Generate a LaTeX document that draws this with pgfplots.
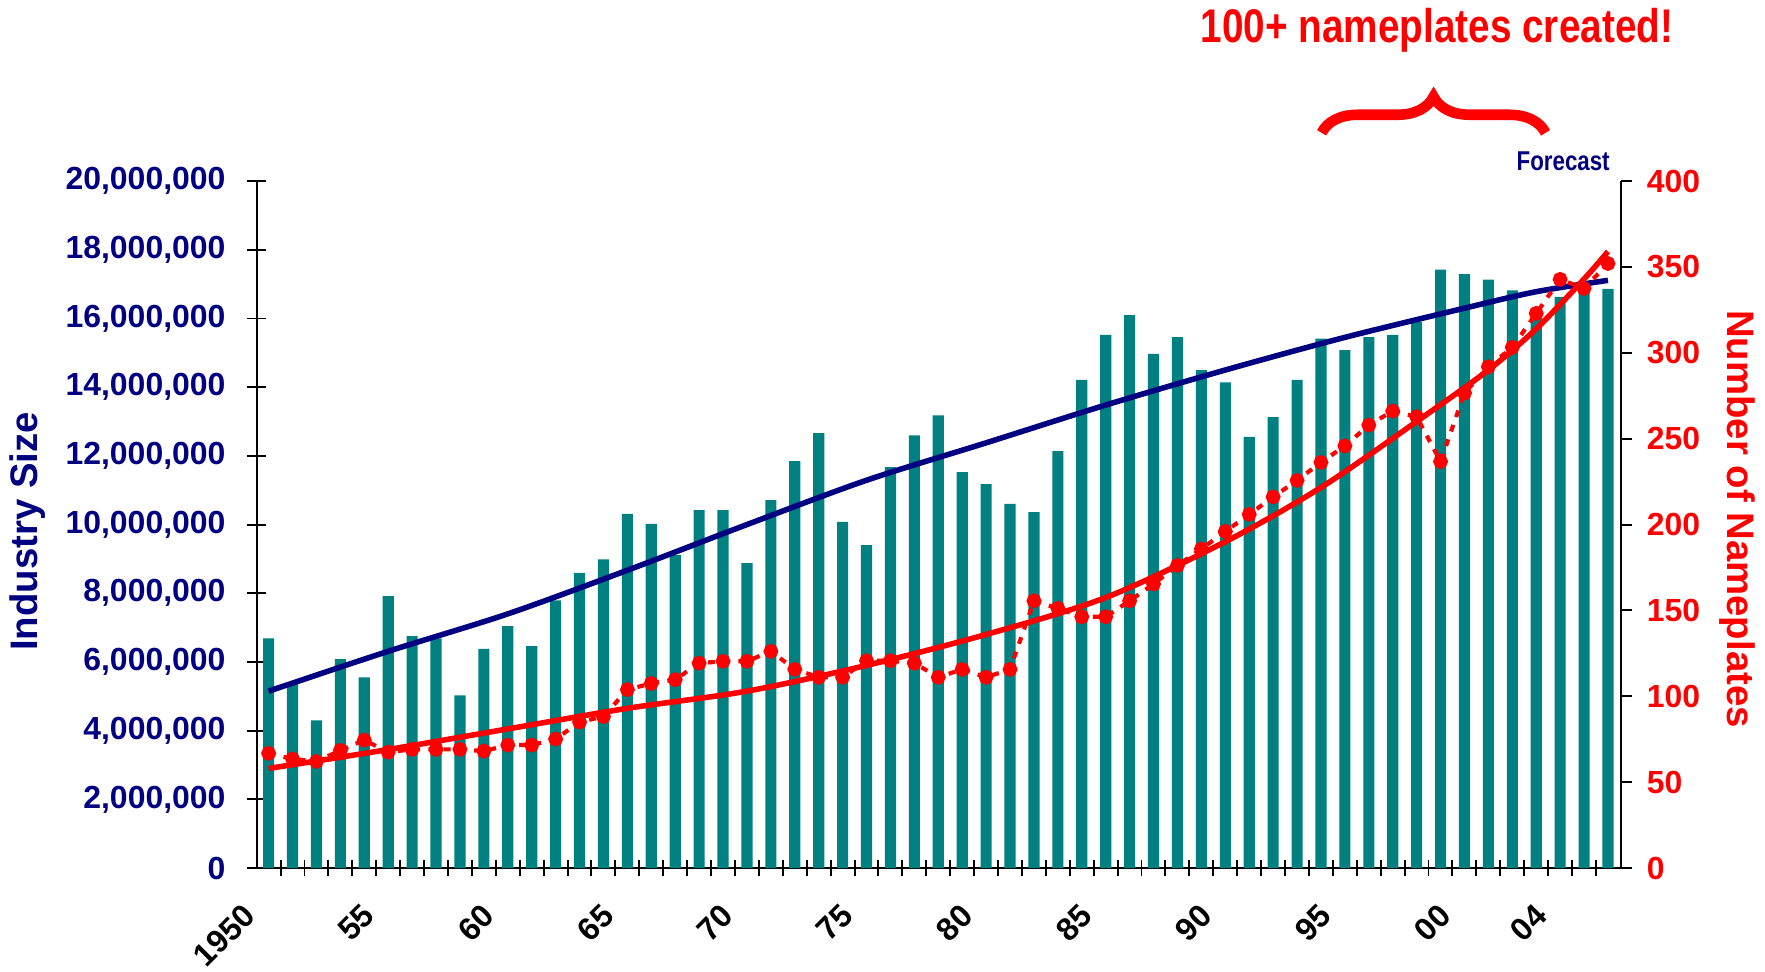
\documentclass[border=0pt]{standalone}
\usepackage{pgfplots}
\usepackage{pgfplotstable}
\pgfplotsset{compat=1.18}
\usepackage{fontspec}
\setmainfont{Liberation Sans}
\newfontfamily\narrowfont[FakeStretch=0.82]{Liberation Sans}
\usetikzlibrary{decorations.pathreplacing}
\definecolor{navy}{RGB}{0,0,128}
\definecolor{myteal}{RGB}{0,128,128}
\definecolor{myred}{RGB}{255,0,0}

\pgfplotstableread{
year sales
1950 6.69
1951 5.37
1952 4.30
1953 6.08
1954 5.55
1955 7.92
1956 6.75
1957 6.69
1958 5.03
1959 6.38
1960 7.04
1961 6.46
1962 7.79
1963 8.59
1964 8.99
1965 10.31
1966 10.02
1967 9.11
1968 10.42
1969 10.42
1970 8.88
1971 10.71
1972 11.85
1973 12.66
1974 10.08
1975 9.40
1976 11.67
1977 12.60
1978 13.18
1979 11.53
1980 11.18
1981 10.60
1982 10.36
1983 12.14
1984 14.21
1985 15.52
1986 16.10
1987 14.97
1988 15.46
1989 14.50
1990 14.14
1991 12.55
1992 13.13
1993 14.21
1994 15.41
1995 15.08
1996 15.46
1997 15.52
1998 15.90
1999 17.42
2000 17.29
2001 17.13
2002 16.82
2003 16.26
2004 16.63
2005 16.95
2006 16.86
}\salestable

\pgfplotstableread{
year plates
1950 66.8
1951 63.5
1952 62.1
1953 68.5
1954 74.5
1955 67.5
1956 69.1
1957 69.1
1958 69.1
1959 68.1
1960 71.6
1961 71.6
1962 75.1
1963 85.0
1964 88.2
1965 103.9
1966 107.5
1967 109.7
1968 119.3
1969 120.4
1970 120.4
1971 126.2
1972 115.7
1973 111.1
1974 111.1
1975 120.7
1976 120.7
1977 119.3
1978 111.1
1979 115.7
1980 111.1
1981 115.7
1982 155.6
1983 151.2
1984 146.3
1985 146.3
1986 155.6
1987 165.4
1988 176.2
1989 185.8
1990 196.0
1991 205.9
1992 216.1
1993 225.7
1994 236.2
1995 245.8
1996 257.9
1997 266.1
1998 262.8
1999 236.7
2000 276.6
2001 291.9
2002 303.2
2003 323.0
2004 342.8
2005 337.5
2006 352.0
}\platestable

\begin{document}
\begin{tikzpicture}
\path[use as bounding box] (-92.4pt,-37.1pt) rectangle (543pt,312.5pt);
\begin{axis}[
  at={(0pt,0pt)}, anchor=south west,
  scale only axis, width=491.2pt, height=247.3pt,
  xmin=1949.5, xmax=2006.55, ymin=0, ymax=20,
  axis x line=bottom, axis y line=left,
  axis line style={-, line width=0.7pt, black},
  tick style={black, line width=0.7pt},
  tick align=center,
  major tick length=7pt,
  minor tick length=6pt,
  ytick={0,2,4,6,8,10,12,14,16,18,20},
  yticklabels={0,{2,000,000},{4,000,000},{6,000,000},{8,000,000},{10,000,000},{12,000,000},{14,000,000},{16,000,000},{18,000,000},{20,000,000}},
  yticklabel style={text=navy, font=\fontsize{11.5}{13}\selectfont\bfseries, xshift=-4.2pt},
  xtick={1950,1955,1960,1965,1970,1975,1980,1985,1990,1995,2000,2004},
  xticklabels={1950,55,60,65,70,75,80,85,90,95,00,04},
  major x tick style={draw=none},
  minor xtick={1950.5,1951.5,...,2005.5},
  minor x tick style={black, line width=0.7pt},
  xticklabel style={xshift=-9.8pt, yshift=-3.8pt, rotate=45, anchor=north east, font=\fontsize{11.5}{13}\selectfont\bfseries},
  ylabel={Industry Size},
  ylabel style={at={(axis description cs:-0.1676,0.49)}, anchor=center, text=navy, font=\fontsize{13.8}{16}\selectfont\bfseries},
  clip=false,
]
\addplot[ybar, bar width=4pt, fill=myteal, draw=none] table[x=year, y=sales] {\salestable};
\addplot[navy, line width=2pt, smooth] coordinates {
(1950,5.15) (1955,6.31) (1960,7.40) (1965,8.67) (1970,10.0) (1975,11.29) (1980,12.38) (1985,13.48) (1990,14.5) (1995,15.45) (2000,16.3) (2003,16.78) (2006,17.11)};
\end{axis}
\begin{axis}[
  at={(0pt,0pt)}, anchor=south west,
  scale only axis, width=491.2pt, height=247.3pt,
  xmin=1949.5, xmax=2006.55, ymin=0, ymax=400,
  axis x line=none, axis y line*=right,
  axis line style={-, line width=0.7pt, black},
  tick style={black, line width=0.7pt},
  tick align=outside,
  major tick length=4pt,
  ytick={0,50,100,150,200,250,300,350,400},
  yticklabels={0,50,100,150,200,250,300,350,400},
  yticklabel style={text=myred, font=\fontsize{11.5}{13}\selectfont\bfseries, xshift=1.7pt},
  ylabel={Number of Nameplates},
  ylabel style={at={(axis description cs:1.085,0.508)}, anchor=center, rotate=180, text=myred, font=\fontsize{13.8}{16}\selectfont\bfseries},
  clip=false,
]
\addplot[myred, line width=1.5pt, dash pattern=on 2.5pt off 3pt, mark=*, mark size=1.9pt, mark options={solid}] table[x=year, y=plates] {\platestable};
\addplot[myred, line width=2pt, smooth] coordinates {
(1950,58) (1955,69) (1960,81) (1965,93) (1970,103) (1975,118) (1980,136) (1985,157.5) (1990,190) (1994,221.6) (1998,260) (2001,290) (2003,314) (2005,343) (2006,359)};
\draw[myred, line width=3.8pt, decorate, decoration={brace, amplitude=13pt}] (rel axis cs:0.7805,1.0703) -- (rel axis cs:0.9446,1.0703);
\node[anchor=base, text=myred, font=\narrowfont\fontsize{17}{20}\selectfont\bfseries] at (rel axis cs:0.865,1.2013) {100+ nameplates created!};
\node[anchor=base, text=navy, font=\narrowfont\fontsize{9.8}{12}\selectfont\bfseries] at (rel axis cs:0.9575,1.016) {Forecast};
\end{axis}
\end{tikzpicture}
\end{document}
